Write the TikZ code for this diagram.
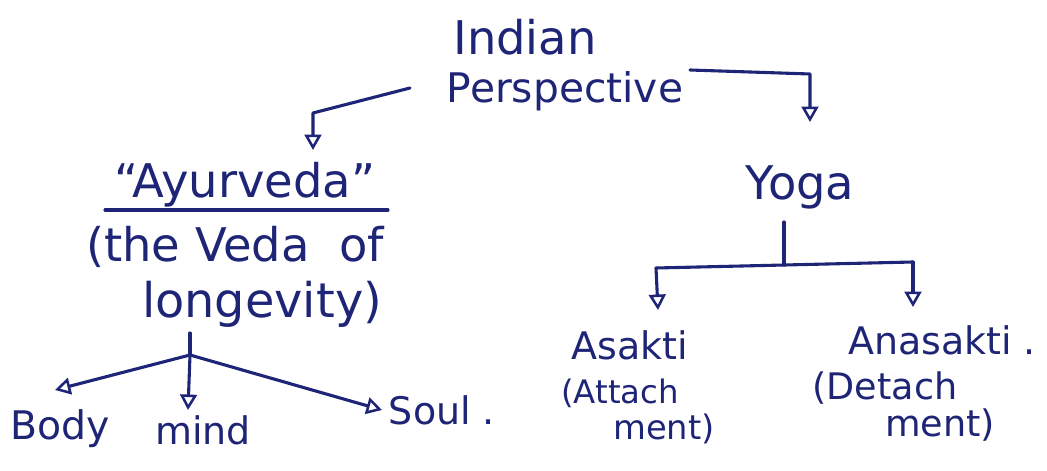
\documentclass[tikz,border=0pt]{standalone}
\usepackage{fontspec}
\setmainfont{DejaVu Sans}
\usetikzlibrary{arrows.meta}
\definecolor{ink}{RGB}{30,36,118}
\tikzset{
  txt/.style={anchor=base, inner sep=0pt, text=ink},
  ln/.style={draw=ink, line width=2.2pt, line cap=round, line join=round},
  arr/.style={ln, -{Triangle[open, length=11pt, width=12pt, line width=1.8pt]}},
}
\newcommand{\fs}[1]{\fontsize{#1}{#1}\selectfont}
\begin{document}
\begin{tikzpicture}[x=0.025cm, y=-0.025cm]
\useasboundingbox (0,0) rectangle (1047,471);
% text nodes
\node[txt] (indian) at (525,55) {\fs{33}Indian};
\node[txt] (persp) at (565,103) {\fs{29}Perspective};
\node[txt] (ayur) at (245,198) {\fs{33}\textquotedblleft Ayurveda\textquotedblright};
\node[txt] (veda) at (235,262) {\fs{33}(the\ Veda\ \ of};
\node[txt] (longev) at (262,318) {\fs{34}longevity)};
\node[txt] (body) at (60,440) {\fs{28}Body};
\node[txt] (mind) at (203,445) {\fs{27}mind};
\node[txt] (soul) at (442,425) {\fs{27}Soul .};
\node[txt] (yoga) at (800,200) {\fs{33}Yoga};
\node[txt] (asakti) at (630,360) {\fs{27}Asakti};
\node[txt] (attach) at (620,404) {\fs{23}(Attach};
\node[txt] (ment1) at (664,440) {\fs{24}ment)};
\node[txt] (anasakti) at (942,355) {\fs{27}Anasakti .};
\node[txt] (detach) at (885,400) {\fs{26}(Detach};
\node[txt] (ment2) at (940,437) {\fs{26}ment)};
% coordinates
\coordinate (lstart) at (410,88);
\coordinate (lbend) at (313,113);
\coordinate (lend) at (313,150);
\coordinate (rstart) at (690,70);
\coordinate (rbend) at (810,74);
\coordinate (rend) at (810,122);
\coordinate (ul1) at (105,210);
\coordinate (ul2) at (388,210);
\coordinate (ltop) at (190,333);
\coordinate (ljunc) at (190,355);
\coordinate (tbody) at (55,390);
\coordinate (tmind) at (188,410);
\coordinate (tsoul) at (382,410);
\coordinate (ytop) at (784,222);
\coordinate (yjunc) at (784,265);
\coordinate (yl) at (656,268);
\coordinate (yr) at (913,262);
\coordinate (tasakti) at (658,310);
\coordinate (tanasakti) at (913,307);
% connectors
\draw[arr] (lstart) -- (lbend) -- (lend);
\draw[arr] (rstart) -- (rbend) -- (rend);
\draw[ln] (ul1) -- (ul2);
\draw[ln] (ltop) -- (ljunc);
\draw[arr] (ljunc) -- (tbody);
\draw[arr] (ljunc) -- (tmind);
\draw[arr] (ljunc) -- (tsoul);
\draw[ln] (ytop) -- (yjunc);
\draw[ln] (yl) -- (yr);
\draw[arr] (yl) -- (tasakti);
\draw[arr] (yr) -- (tanasakti);
\end{tikzpicture}
\end{document}
